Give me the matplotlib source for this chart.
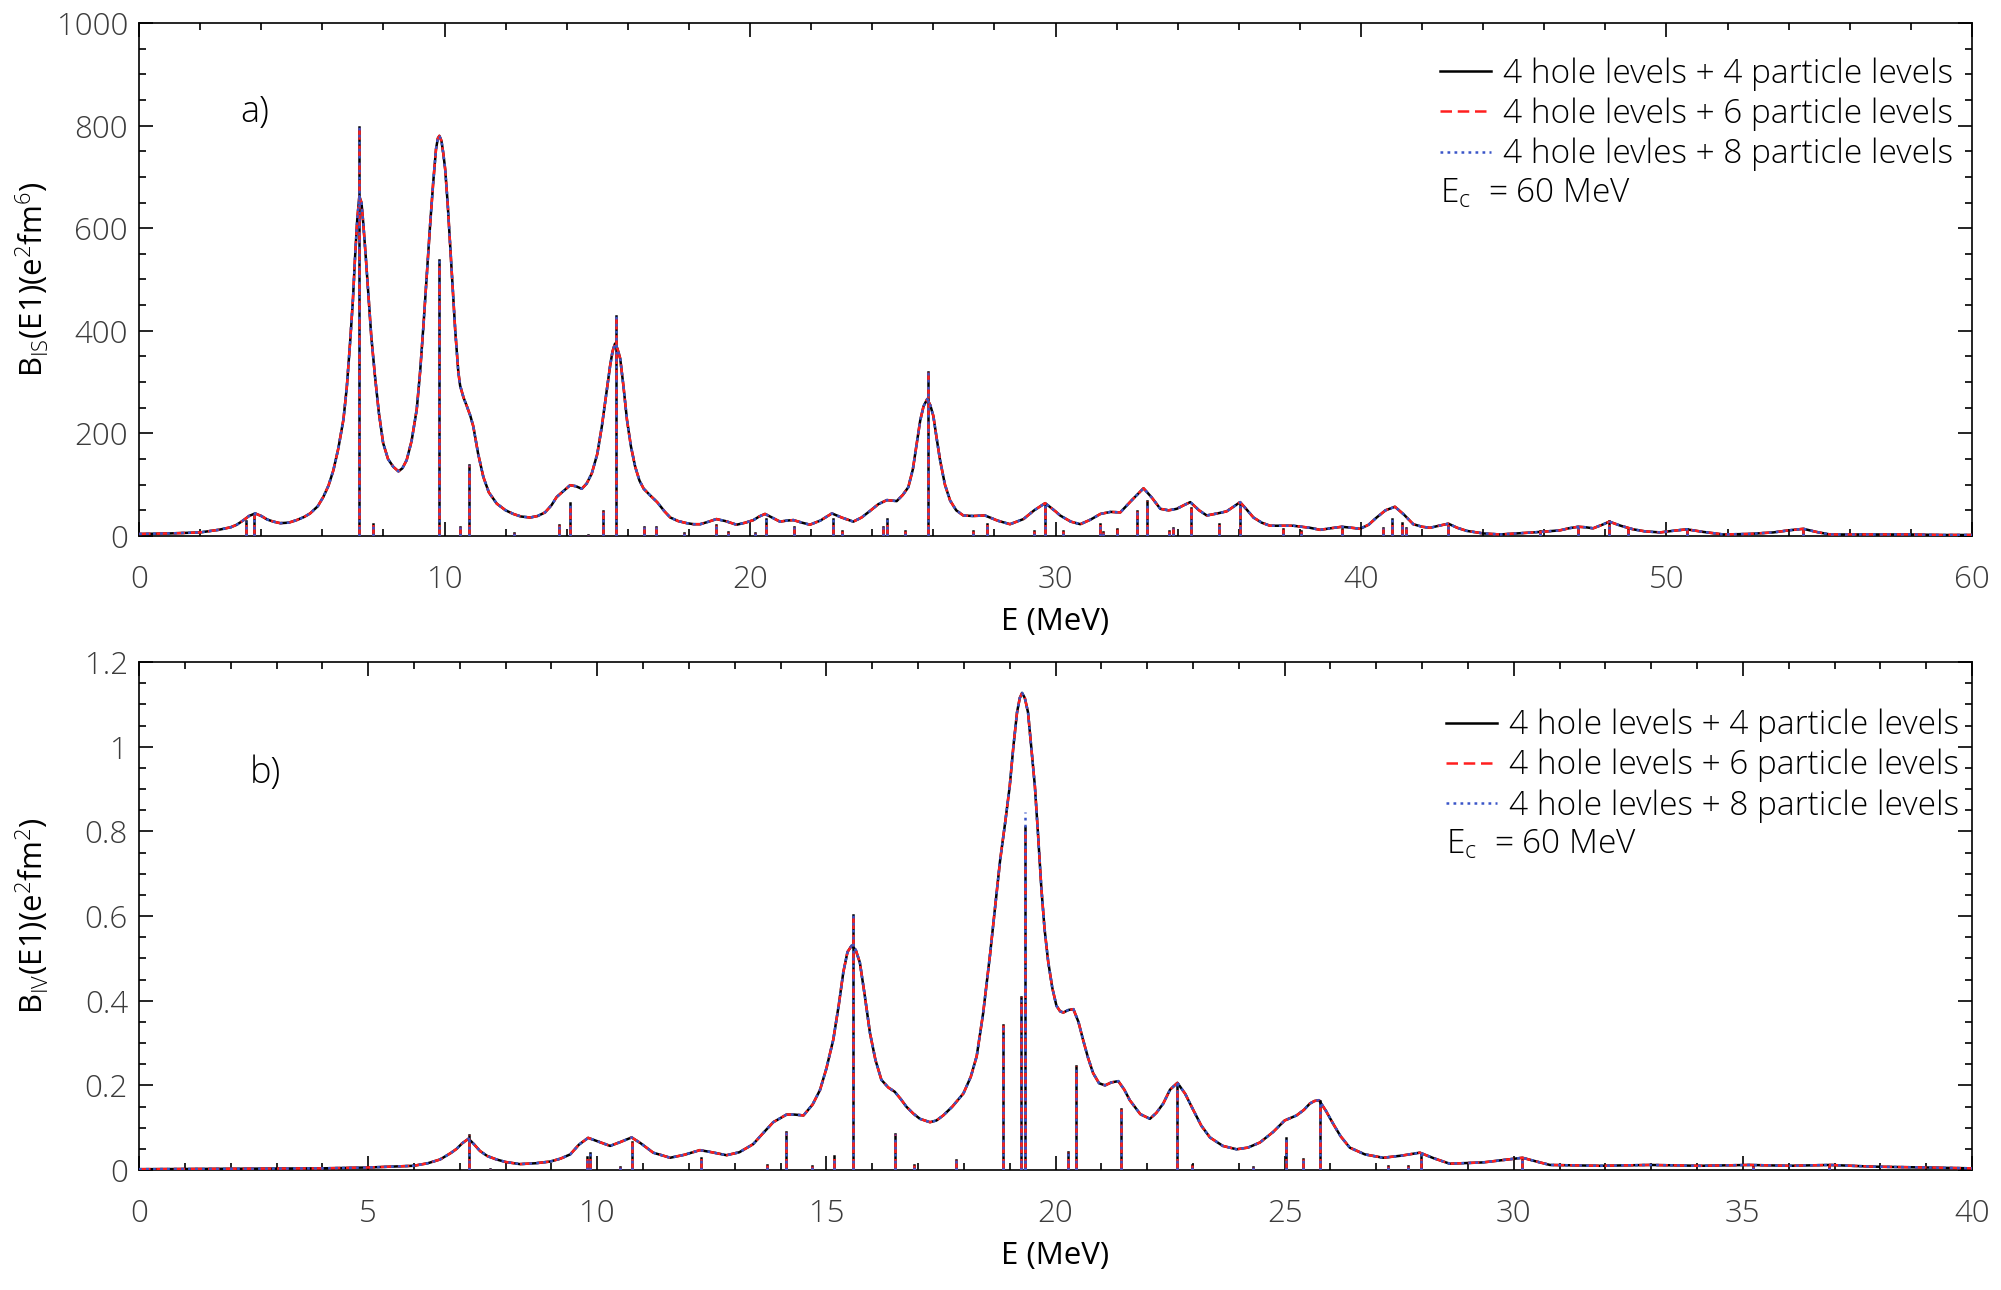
import matplotlib
matplotlib.use('Agg')
import matplotlib.pyplot as plt
from matplotlib.ticker import MultipleLocator, FuncFormatter

plt.rcParams['font.family'] = ['Open Sans', 'DejaVu Sans']
plt.rcParams['font.weight'] = 'light'
plt.rcParams['mathtext.fontset'] = 'custom'
plt.rcParams['mathtext.rm'] = 'Open Sans:light'
plt.rcParams['mathtext.it'] = 'Open Sans:light'

# panel a) isoscalar strength, folded curve (E in MeV, B in e^2 fm^6)
TOP_E = [0.0, 1.0, 2.0, 2.6, 3.0, 3.2, 3.4, 3.6, 3.8, 4.0,
         4.2, 4.4, 4.62, 4.9, 5.16, 5.4, 5.6, 5.85, 6.03, 6.2,
         6.36, 6.52, 6.69, 6.8, 6.91, 7.0, 7.07, 7.14, 7.21, 7.28,
         7.34, 7.42, 7.5, 7.6, 7.72, 7.85, 7.99, 8.15, 8.32, 8.49,
         8.62, 8.76, 8.92, 9.09, 9.2, 9.31, 9.42, 9.53, 9.63, 9.72,
         9.78, 9.83, 9.9, 9.96, 10.02, 10.1, 10.17, 10.24, 10.35, 10.45,
         10.51, 10.62, 10.73, 10.84, 10.94, 11.1, 11.27, 11.45, 11.71, 12.0,
         12.25, 12.5, 12.8, 13.05, 13.29, 13.5, 13.67, 13.9, 14.11, 14.3,
         14.49, 14.65, 14.82, 15.0, 15.15, 15.3, 15.42, 15.5, 15.58, 15.66,
         15.75, 15.86, 15.97, 16.1, 16.24, 16.38, 16.52, 16.75, 16.96, 17.2,
         17.39, 17.65, 17.93, 18.15, 18.37, 18.65, 18.9, 19.2, 19.56, 19.85,
         20.11, 20.3, 20.49, 20.75, 20.98, 21.2, 21.42, 21.7, 21.96, 22.3,
         22.68, 23.0, 23.38, 23.65, 23.93, 24.2, 24.48, 24.8, 25.0, 25.18,
         25.33, 25.46, 25.57, 25.68, 25.8, 25.9, 26.0, 26.11, 26.22, 26.38,
         26.55, 26.75, 26.98, 27.3, 27.69, 28.1, 28.51, 28.95, 29.3, 29.66,
         30.0, 30.15, 30.5, 30.81, 31.15, 31.47, 31.8, 32.12, 32.5, 32.88,
         33.15, 33.43, 33.7, 33.97, 34.2, 34.41, 34.7, 34.95, 35.3, 35.6,
         35.85, 36.04, 36.25, 36.48, 36.75, 37.02, 37.4, 37.78, 38.33, 38.66,
         39.0, 39.37, 39.7, 39.97, 40.25, 40.51, 40.8, 41.11, 41.4, 41.71,
         42.0, 42.26, 42.55, 42.86, 43.15, 43.46, 44.0, 44.55, 45.1, 45.64,
         46.1, 46.51, 46.8, 47.11, 47.35, 47.6, 47.9, 48.13, 48.5, 48.91,
         49.3, 49.79, 50.2, 50.66, 51.2, 51.86, 52.7, 53.5, 54.0, 54.48,
         54.9, 55.35, 56.5, 57.97, 59.0, 60.0]
TOP_B = [4, 5, 7, 12, 17, 22, 30, 39, 44, 39,
         32, 28, 25, 26, 31, 37, 44, 58, 76, 98,
         128, 170, 227, 290, 379, 460, 543, 615, 662, 650,
         609, 545, 477, 390, 313, 240, 181, 150, 135, 126,
         132, 148, 185, 247, 320, 411, 510, 609, 690, 754,
         775, 780, 770, 745, 715, 650, 580, 510, 400, 320,
         293, 270, 253, 235, 214, 160, 115, 85, 63, 50,
         43, 38, 36, 39, 46, 60, 76, 88, 99, 97,
         92, 102, 122, 160, 214, 280, 332, 360, 375, 365,
         346, 290, 227, 175, 135, 108, 92, 78, 66, 48,
         36, 29, 25, 23, 23, 28, 33, 29, 22, 26,
         31, 38, 43, 35, 28, 30, 31, 26, 22, 30,
         44, 36, 28, 36, 49, 62, 70, 68, 80, 95,
         130, 181, 225, 253, 267, 255, 234, 190, 148, 100,
         69, 50, 40, 39, 40, 30, 23, 33, 50, 64,
         48, 40, 28, 23, 32, 43, 47, 46, 70, 93,
         75, 53, 50, 53, 60, 66, 50, 40, 44, 48,
         58, 66, 52, 36, 26, 20, 20, 20, 16, 12,
         15, 18, 16, 14, 22, 36, 50, 57, 42, 23,
         18, 16, 20, 24, 16, 10, 5, 3, 5, 7,
         9, 11, 15, 18, 17, 15, 22, 28, 20, 13,
         9, 7, 10, 13, 8, 3, 4, 7, 11, 14,
         8, 3, 3, 3, 2, 2]

# panel a) discrete transitions
TOP_STICK_E = [3.5, 3.76, 7.21, 7.67, 9.82, 10.51, 10.8, 12.27, 13.73, 14.11,
               14.69, 15.18, 15.6, 16.53, 16.92, 17.84, 18.88, 19.27, 20.16, 20.51,
               21.44, 22.71, 23.0, 24.34, 24.47, 25.07, 25.82, 27.31, 27.77, 29.3,
               29.66, 30.23, 31.46, 31.55, 32.02, 32.66, 32.98, 33.71, 33.85, 34.42,
               35.35, 36.04, 37.44, 38.04, 39.37, 40.71, 41.0, 41.33, 41.47, 42.86,
               45.86, 47.11, 48.13, 48.75, 50.66, 54.48]
TOP_STICK_B = [30, 43, 798, 23, 537, 18, 138, 5, 21, 64,
               2, 49, 429, 18, 18, 5, 21, 7, 5, 33,
               18, 34, 9, 18, 34, 9, 319, 9, 24, 9,
               63, 9, 24, 7, 13, 49, 69, 10, 15, 54,
               24, 64, 13, 9, 13, 16, 33, 25, 16, 24,
               9, 18, 30, 13, 13, 13]

# panel b) isovector strength, folded curve (B in e^2 fm^2)
BOT_E = [0.0, 2.0, 4.0, 5.0, 5.99, 6.3, 6.57, 6.8, 6.93, 7.05,
         7.19, 7.3, 7.44, 7.6, 7.8, 8.0, 8.31, 8.65, 8.97, 9.2,
         9.41, 9.6, 9.8, 10.0, 10.28, 10.5, 10.75, 10.95, 11.22, 11.59,
         11.9, 12.24, 12.5, 12.82, 13.1, 13.4, 13.6, 13.84, 14.13, 14.3,
         14.5, 14.7, 14.86, 15.0, 15.15, 15.27, 15.37, 15.46, 15.55, 15.64,
         15.73, 15.84, 15.95, 16.07, 16.2, 16.35, 16.49, 16.62, 16.75, 16.9,
         17.04, 17.26, 17.4, 17.55, 17.75, 17.99, 18.15, 18.28, 18.42, 18.57,
         18.68, 18.79, 18.9, 19.0, 19.08, 19.16, 19.22, 19.27, 19.33, 19.4,
         19.47, 19.55, 19.62, 19.69, 19.76, 19.84, 19.93, 20.02, 20.1, 20.17,
         20.28, 20.39, 20.5, 20.6, 20.71, 20.82, 20.95, 21.08, 21.22, 21.37,
         21.5, 21.62, 21.85, 22.06, 22.2, 22.35, 22.5, 22.66, 22.83, 23.01,
         23.18, 23.37, 23.65, 23.95, 24.2, 24.46, 24.75, 25.0, 25.26, 25.42,
         25.55, 25.65, 25.75, 25.9, 26.06, 26.22, 26.42, 26.75, 27.15, 27.55,
         27.95, 28.25, 28.6, 29.33, 29.8, 30.19, 30.5, 30.79, 31.88, 32.97,
         34.06, 35.15, 36.0, 36.9, 37.84, 39.0, 40.0]
BOT_B = [0.002, 0.003, 0.004, 0.006, 0.01, 0.016, 0.025, 0.04, 0.05, 0.063,
         0.074, 0.062, 0.045, 0.033, 0.025, 0.019, 0.014, 0.016, 0.02, 0.027,
         0.037, 0.06, 0.076, 0.068, 0.057, 0.066, 0.077, 0.063, 0.041, 0.029,
         0.036, 0.047, 0.042, 0.035, 0.042, 0.061, 0.085, 0.113, 0.131, 0.131,
         0.129, 0.155, 0.189, 0.24, 0.308, 0.39, 0.468, 0.515, 0.53, 0.52,
         0.49, 0.41, 0.324, 0.26, 0.213, 0.195, 0.185, 0.168, 0.149, 0.133,
         0.121, 0.113, 0.117, 0.129, 0.15, 0.181, 0.22, 0.269, 0.37, 0.508,
         0.62, 0.731, 0.82, 0.906, 1.0, 1.081, 1.115, 1.127, 1.115, 1.081,
         1.0, 0.906, 0.79, 0.667, 0.57, 0.492, 0.43, 0.388, 0.375, 0.372,
         0.378, 0.38, 0.35, 0.308, 0.265, 0.229, 0.205, 0.2, 0.207, 0.21,
         0.19, 0.165, 0.132, 0.121, 0.135, 0.157, 0.19, 0.206, 0.18, 0.141,
         0.105, 0.077, 0.057, 0.049, 0.053, 0.065, 0.09, 0.117, 0.129, 0.142,
         0.157, 0.163, 0.165, 0.14, 0.109, 0.08, 0.053, 0.037, 0.029, 0.034,
         0.041, 0.028, 0.015, 0.018, 0.024, 0.029, 0.02, 0.012, 0.01, 0.012,
         0.01, 0.012, 0.01, 0.012, 0.008, 0.006, 0.004]

BOT_STICK_E = [7.19, 7.66, 9.77, 9.83, 10.5, 10.76, 12.26, 13.7, 14.11, 14.68,
               15.17, 15.57, 16.49, 16.91, 17.82, 18.85, 19.24, 19.33, 20.27, 20.44,
               21.42, 22.66, 22.98, 24.3, 25.02, 25.39, 25.77, 27.26, 27.7, 27.97,
               30.19, 35.22, 36.89]
BOT_STICK_B = [0.082, 0.003, 0.03, 0.04, 0.006, 0.067, 0.028, 0.012, 0.091, 0.01,
               0.032, 0.602, 0.085, 0.012, 0.024, 0.342, 0.408, 0.81, 0.043, 0.245,
               0.145, 0.206, 0.012, 0.006, 0.075, 0.027, 0.163, 0.01, 0.01, 0.039,
               0.027, 0.01, 0.012]
# the 8-particle-level run has a slightly stronger state at 19.3 MeV
BOT_EXTRA_8P_E = [19.33]
BOT_EXTRA_8P_B = [0.846]

LABELS = ['4 hole levels + 4 particle levels',
          '4 hole levels + 6 particle levels',
          '4 hole levles + 8 particle levels']

STYLES = [dict(color='black', dashes=None),
          dict(color='#ff1f1f', dashes=(4.6, 2.3)),
          dict(color='#3a55c8', dashes=(1.1, 1.7))]
LW = 1.8
TICK_COLOR = '#3c3c3c'
FS_TICK = 22.5
FS_LABEL = 22.5
FS_LEG = 24


def draw_panel(ax, curve_e, curve_b, stick_e, stick_b):
    handles = []
    for i, st in enumerate(STYLES):
        line, = ax.plot(curve_e, curve_b, color=st['color'], lw=LW, zorder=3 + i,
                        label=LABELS[i])
        if st['dashes'] is not None:
            line.set_dashes(st['dashes'])
        handles.append(line)
        for e, b in zip(stick_e, stick_b):
            s, = ax.plot([e, e], [0, b], color=st['color'], lw=LW, zorder=3 + i)
            if st['dashes'] is not None:
                s.set_dashes(st['dashes'])
    return handles


def style_axes(ax, xmax, xmaj, xmin, ymax, ymaj, ymin):
    ax.set_xlim(0, xmax)
    ax.set_ylim(0, ymax)
    ax.xaxis.set_major_locator(MultipleLocator(xmaj))
    ax.xaxis.set_minor_locator(MultipleLocator(xmin))
    ax.yaxis.set_major_locator(MultipleLocator(ymaj))
    ax.yaxis.set_minor_locator(MultipleLocator(ymin))
    ax.yaxis.set_major_formatter(FuncFormatter(lambda v, p: f'{v:g}'))
    ax.xaxis.set_major_formatter(FuncFormatter(lambda v, p: f'{v:g}'))
    ax.tick_params(which='both', direction='in', top=True, right=True,
                   labelsize=FS_TICK, labelcolor=TICK_COLOR, width=1.2)
    ax.tick_params(which='major', length=10)
    ax.tick_params(which='minor', length=5)
    ax.tick_params(axis='x', pad=20)
    ax.tick_params(axis='y', pad=8)
    for sp in ax.spines.values():
        sp.set_linewidth(1.2)
    ax.set_xlabel('E (MeV)', fontsize=FS_LABEL, labelpad=8)


fig = plt.figure(figsize=(20.01, 12.90), dpi=100)
ax1 = fig.add_axes([0.0695, 0.5845, 0.916, 0.3977])
ax2 = fig.add_axes([0.0695, 0.0930, 0.916, 0.3938])

h1 = draw_panel(ax1, TOP_E, TOP_B, TOP_STICK_E, TOP_STICK_B)
style_axes(ax1, 60, 10, 2, 1000, 200, 50)
ax1.set_ylabel(r'B$_{\rm IS}$(E1)(e$^{\rm 2}$fm$^{\rm 6}$)', fontsize=FS_LABEL)
ax1.yaxis.set_label_coords(-0.048, 0.5)
ax1.text(0.063, 0.826, 'a)', transform=ax1.transAxes, fontsize=26,
         ha='center', va='center')
ax1.legend(handles=h1, loc='upper left', bbox_to_anchor=(0.7098, 0.933),
           frameon=False, fontsize=FS_LEG, borderpad=0, borderaxespad=0,
           handlelength=1.53, handletextpad=0.36, labelspacing=0.2)
ax1.text(0.7098, 0.667, r'E$_{\rm c}$  = 60 MeV', transform=ax1.transAxes,
         fontsize=FS_LEG, ha='left', va='center')

h2 = draw_panel(ax2, BOT_E, BOT_B, BOT_STICK_E, BOT_STICK_B)
for e, b in zip(BOT_EXTRA_8P_E, BOT_EXTRA_8P_B):
    s, = ax2.plot([e, e], [0, b], color=STYLES[2]['color'], lw=LW, zorder=6)
    s.set_dashes(STYLES[2]['dashes'])
style_axes(ax2, 40, 5, 1, 1.2, 0.2, 0.05)
ax2.set_ylabel(r'B$_{\rm IV}$(E1)(e$^{\rm 2}$fm$^{\rm 2}$)', fontsize=FS_LABEL)
ax2.yaxis.set_label_coords(-0.048, 0.5)
ax2.text(0.069, 0.781, 'b)', transform=ax2.transAxes, fontsize=26,
         ha='center', va='center')
ax2.legend(handles=h2, loc='upper left', bbox_to_anchor=(0.713, 0.908),
           frameon=False, fontsize=FS_LEG, borderpad=0, borderaxespad=0,
           handlelength=1.53, handletextpad=0.36, labelspacing=0.2)
ax2.text(0.713, 0.640, r'E$_{\rm c}$  = 60 MeV', transform=ax2.transAxes,
         fontsize=FS_LEG, ha='left', va='center')

fig.savefig('out.png', dpi=100)
